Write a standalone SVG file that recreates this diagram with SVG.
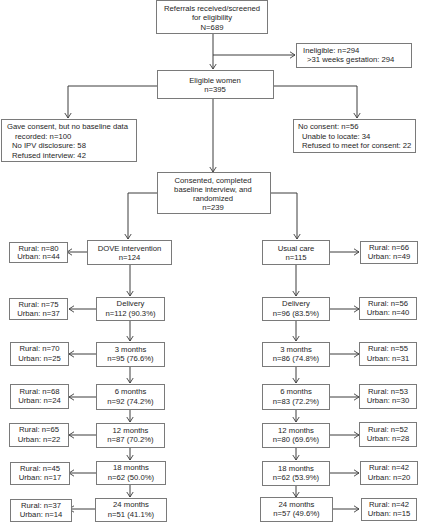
<svg xmlns="http://www.w3.org/2000/svg" width="421" height="523" viewBox="0 0 421 523">
<style>
.b{fill:#fff;stroke:#7a7a7a;stroke-width:1}
.t{font-family:"Liberation Sans",Arial,sans-serif;font-size:7.7px;fill:#1e1e1e}
.c{text-anchor:middle}
.l{fill:none;stroke:#3c3c3c;stroke-width:1}
</style>
<defs>
<marker id="a" markerUnits="userSpaceOnUse" markerWidth="8" markerHeight="8" refX="6" refY="4" orient="auto">
<path d="M1,0.8 L6,4 L1,7.2" fill="none" stroke="#3c3c3c" stroke-width="0.9"/>
</marker>
</defs>
<rect width="421" height="523" fill="#fff"/>
<g id="connectors">
<path class="l" d="M213,33V69" marker-end="url(#a)"/>
<path class="l" d="M213,55H295" marker-end="url(#a)"/>
<path class="l" d="M157,86H68V118" marker-end="url(#a)"/>
<path class="l" d="M274,86H357V118" marker-end="url(#a)"/>
<path class="l" d="M213,99V172" marker-end="url(#a)"/>
<path class="l" d="M157,193H128V239" marker-end="url(#a)"/>
<path class="l" d="M270,193H297V239" marker-end="url(#a)"/>
<path class="l" d="M87,252H67" marker-end="url(#a)"/>
<path class="l" d="M330,252H359" marker-end="url(#a)"/>
<path class="l" d="M130,265V296" marker-end="url(#a)"/>
<path class="l" d="M130,321V341" marker-end="url(#a)"/>
<path class="l" d="M130,367V383" marker-end="url(#a)"/>
<path class="l" d="M130,409V422" marker-end="url(#a)"/>
<path class="l" d="M130,448V460" marker-end="url(#a)"/>
<path class="l" d="M130,485V497" marker-end="url(#a)"/>
<path class="l" d="M296,265V296" marker-end="url(#a)"/>
<path class="l" d="M296,321V341" marker-end="url(#a)"/>
<path class="l" d="M296,367V383" marker-end="url(#a)"/>
<path class="l" d="M296,409V422" marker-end="url(#a)"/>
<path class="l" d="M296,448V460" marker-end="url(#a)"/>
<path class="l" d="M296,485V497" marker-end="url(#a)"/>
<path class="l" d="M96,309H69" marker-end="url(#a)"/>
<path class="l" d="M96,354H69" marker-end="url(#a)"/>
<path class="l" d="M96,397H69" marker-end="url(#a)"/>
<path class="l" d="M96,435H69" marker-end="url(#a)"/>
<path class="l" d="M96,473H69" marker-end="url(#a)"/>
<path class="l" d="M96,509H69" marker-end="url(#a)"/>
<path class="l" d="M330,309H359" marker-end="url(#a)"/>
<path class="l" d="M330,354H359" marker-end="url(#a)"/>
<path class="l" d="M330,397H359" marker-end="url(#a)"/>
<path class="l" d="M330,435H359" marker-end="url(#a)"/>
<path class="l" d="M330,473H359" marker-end="url(#a)"/>
<path class="l" d="M332,509H359" marker-end="url(#a)"/>
</g>
<g id="referrals"><rect class="b" x="156.5" y="0.5" width="111" height="33"/>
<text class="t c" x="212" y="10.5">Referrals received/screened</text><text class="t c" x="212" y="20">for eligibility</text><text class="t c" x="212" y="29.5">N=689</text></g>
<g id="ineligible"><rect class="b" x="296.5" y="43.5" width="115" height="24"/>
<text class="t" x="303" y="52.5">Ineligible: n=294</text><text class="t" x="307" y="62">&gt;31 weeks gestation: 294</text></g>
<g id="eligible"><rect class="b" x="157.5" y="70.5" width="116" height="28"/>
<text class="t c" x="215" y="82.5">Eligible women</text><text class="t c" x="215" y="92">n=395</text></g>
<g id="noBaseline"><rect class="b" x="1.5" y="119.5" width="135" height="42"/>
<text class="t" x="7" y="129">Gave consent, but no baseline data</text><text class="t" x="15" y="138.5">recorded: n=100</text><text class="t" x="12" y="148">No IPV disclosure: 58</text><text class="t" x="12" y="157.5">Refused interview: 42</text></g>
<g id="noConsent"><rect class="b" x="293.5" y="119.5" width="122" height="33"/>
<text class="t" x="298" y="129">No consent: n=56</text><text class="t" x="302" y="138.5">Unable to locate: 34</text><text class="t" x="302" y="148">Refused to meet for consent: 22</text></g>
<g id="randomized"><rect class="b" x="157.5" y="172.5" width="113" height="41"/>
<text class="t c" x="213" y="183">Consented, completed</text><text class="t c" x="213" y="192">baseline interview, and</text><text class="t c" x="213" y="201">randomized</text><text class="t c" x="213" y="210">n=239</text></g>
<g id="dove"><rect class="b" x="87.5" y="240.5" width="84" height="24"/>
<text class="t c" x="129.5" y="250.5">DOVE intervention</text><text class="t c" x="129.5" y="260">n=124</text></g>
<g id="usual"><rect class="b" x="262.5" y="240.5" width="67" height="24"/>
<text class="t c" x="296" y="250.5">Usual care</text><text class="t c" x="296" y="260">n=115</text></g>
<g id="doveRural"><rect class="b" x="9.5" y="242.5" width="58" height="20"/>
<text class="t c" x="38.5" y="250.5">Rural: n=80</text><text class="t c" x="38.5" y="259">Urban: n=44</text></g>
<g id="usualRural"><rect class="b" x="360.5" y="241.5" width="57" height="22"/>
<text class="t c" x="389" y="250">Rural: n=66</text><text class="t c" x="389" y="259">Urban: n=49</text></g>
<g id="dDelivery"><rect class="b" x="96.5" y="297.5" width="68" height="23"/>
<text class="t c" x="130.5" y="306">Delivery</text><text class="t c" x="130.5" y="315.5">n=112 (90.3%)</text></g>
<g id="dDeliveryRural"><rect class="b" x="9.5" y="298.5" width="58" height="21"/>
<text class="t c" x="38.5" y="306.5">Rural: n=75</text><text class="t c" x="38.5" y="315.5">Urban: n=37</text></g>
<g id="uDelivery"><rect class="b" x="262.5" y="297.5" width="67" height="23"/>
<text class="t c" x="296" y="306">Delivery</text><text class="t c" x="296" y="315.5">n=96 (83.5%)</text></g>
<g id="uDeliveryRural"><rect class="b" x="359.5" y="297.5" width="57" height="22"/>
<text class="t c" x="388" y="306">Rural: n=56</text><text class="t c" x="388" y="315">Urban: n=40</text></g>
<g id="d3"><rect class="b" x="96.5" y="342.5" width="68" height="24"/>
<text class="t c" x="130.5" y="351.5">3 months</text><text class="t c" x="130.5" y="361">n=95 (76.6%)</text></g>
<g id="d3Rural"><rect class="b" x="10.5" y="342.5" width="58" height="23"/>
<text class="t c" x="39.5" y="351">Rural: n=70</text><text class="t c" x="39.5" y="360.5">Urban: n=25</text></g>
<g id="u3"><rect class="b" x="262.5" y="342.5" width="67" height="24"/>
<text class="t c" x="296" y="351.5">3 months</text><text class="t c" x="296" y="361">n=86 (74.8%)</text></g>
<g id="u3Rural"><rect class="b" x="359.5" y="342.5" width="57" height="23"/>
<text class="t c" x="388" y="351">Rural: n=55</text><text class="t c" x="388" y="360.5">Urban: n=31</text></g>
<g id="d6"><rect class="b" x="96.5" y="384.5" width="68" height="25"/>
<text class="t c" x="130.5" y="394">6 months</text><text class="t c" x="130.5" y="403.5">n=92 (74.2%)</text></g>
<g id="d6Rural"><rect class="b" x="10.5" y="384.5" width="58" height="24"/>
<text class="t c" x="39.5" y="393.5">Rural: n=68</text><text class="t c" x="39.5" y="403">Urban: n=24</text></g>
<g id="u6"><rect class="b" x="262.5" y="384.5" width="67" height="25"/>
<text class="t c" x="296" y="394">6 months</text><text class="t c" x="296" y="403.5">n=83 (72.2%)</text></g>
<g id="u6Rural"><rect class="b" x="359.5" y="384.5" width="57" height="24"/>
<text class="t c" x="388" y="393.5">Rural: n=53</text><text class="t c" x="388" y="403">Urban: n=30</text></g>
<g id="d12"><rect class="b" x="96.5" y="423.5" width="68" height="24"/>
<text class="t c" x="130.5" y="432.5">12 months</text><text class="t c" x="130.5" y="442">n=87 (70.2%)</text></g>
<g id="d12Rural"><rect class="b" x="9.5" y="423.5" width="59" height="23"/>
<text class="t c" x="39" y="432">Rural: n=65</text><text class="t c" x="39" y="441.5">Urban: n=22</text></g>
<g id="u12"><rect class="b" x="262.5" y="423.5" width="67" height="24"/>
<text class="t c" x="296" y="432.5">12 months</text><text class="t c" x="296" y="442">n=80 (69.6%)</text></g>
<g id="u12Rural"><rect class="b" x="359.5" y="422.5" width="57" height="24"/>
<text class="t c" x="388" y="431.5">Rural: n=52</text><text class="t c" x="388" y="441">Urban: n=28</text></g>
<g id="d18"><rect class="b" x="96.5" y="461.5" width="69" height="23"/>
<text class="t c" x="131" y="470">18 months</text><text class="t c" x="131" y="479.5">n=62 (50.0%)</text></g>
<g id="d18Rural"><rect class="b" x="10.5" y="462.5" width="59" height="22"/>
<text class="t c" x="40" y="470.5">Rural: n=45</text><text class="t c" x="40" y="480">Urban: n=17</text></g>
<g id="u18"><rect class="b" x="262.5" y="461.5" width="67" height="24"/>
<text class="t c" x="296" y="470.5">18 months</text><text class="t c" x="296" y="480">n=62 (53.9%)</text></g>
<g id="u18Rural"><rect class="b" x="360.5" y="461.5" width="57" height="23"/>
<text class="t c" x="389" y="470">Rural: n=42</text><text class="t c" x="389" y="479.5">Urban: n=20</text></g>
<g id="d24"><rect class="b" x="95.5" y="498.5" width="71" height="23"/>
<text class="t c" x="131" y="507">24 months</text><text class="t c" x="131" y="516.5">n=51 (41.1%)</text></g>
<g id="d24Rural"><rect class="b" x="10.5" y="499.5" width="61" height="22"/>
<text class="t c" x="41" y="507.5">Rural: n=37</text><text class="t c" x="41" y="517">Urban: n=14</text></g>
<g id="u24"><rect class="b" x="260.5" y="497.5" width="72" height="24"/>
<text class="t c" x="296.5" y="506.5">24 months</text><text class="t c" x="296.5" y="516">n=57 (49.6%)</text></g>
<g id="u24Rural"><rect class="b" x="361.5" y="498.5" width="55" height="22"/>
<text class="t c" x="389" y="506.5">Rural: n=42</text><text class="t c" x="389" y="516">Urban: n=15</text></g>
</svg>
